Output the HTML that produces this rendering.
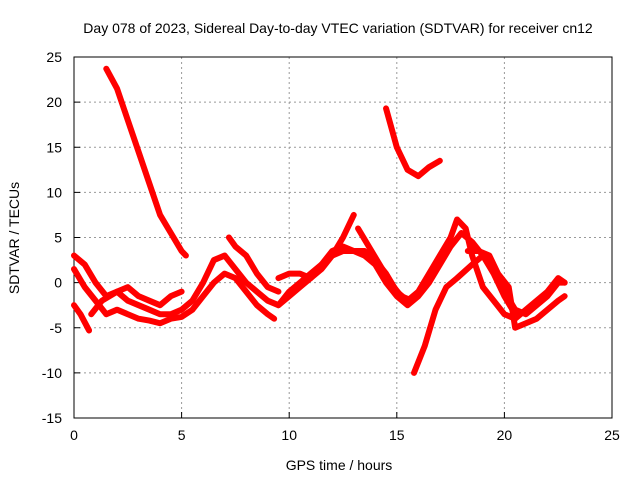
<!DOCTYPE html>
<html><head><meta charset="utf-8"><style>
body{margin:0;background:#fff}
svg{font-family:"Liberation Sans",sans-serif}
</style></head><body>
<svg id="chart" width="640" height="480">
<text x="338" y="33" text-anchor="middle" font-size="14">Day 078 of 2023, Sidereal Day-to-day VTEC variation (SDTVAR) for receiver cn12</text>
<text x="339" y="470" text-anchor="middle" font-size="14">GPS time / hours</text>
<text transform="translate(19,238) rotate(-90)" text-anchor="middle" font-size="14">SDTVAR / TECUs</text>
<g id="grid"></g><g id="axes"></g><g id="series"></g>
</svg>
<script>
const xTicks=[0,5,10,15,20,25];
const yTicks=[-15,-10,-5,0,5,10,15,20,25];
const sA=[[0,3],[0.5,2],[1,0],[1.5,-1.5],[2,-1],[2.5,-2],[3,-2.5],[3.5,-3],[4,-3.5],[4.5,-3.5],[5,-3],[5.5,-2],[6,0],[6.5,2.5],[7,3],[7.5,1.5],[8,0],[8.5,-1],[9,-2],[9.5,-2.5],[10,-1.5],[10.5,-0.5],[11,0.5],[11.5,1.5],[12,3],[12.5,5],[13,7.5]];
const sB=[[0,1.5],[0.5,-0.5],[1,-2],[1.5,-3.5],[2,-3],[2.5,-3.5],[3,-4],[3.5,-4.2],[4,-4.5],[4.5,-4],[5,-3.8],[5.5,-3],[6,-1.5],[6.5,0],[7,1],[7.5,0.5],[8,-1],[8.5,-2.5],[9,-3.5],[9.3,-4]];
const sC=[[0.8,-3.5],[1.3,-2],[2,-1],[2.5,-0.5],[3,-1.5],[3.5,-2],[4,-2.5],[4.5,-1.5],[5,-1]];
const sD=[[7.2,5],[7.5,4],[8,3],[8.5,1],[9,-0.5],[9.5,-1]];
const sE=[[9.5,-2.5],[10,-1],[10.5,0],[11,1],[11.5,2],[12,3],[12.5,3.5],[13,3.5],[13.5,3],[14,2],[14.5,0],[15,-1.5],[15.5,-2.5],[16,-1.5],[16.5,0],[17,2],[17.5,4],[18,5.5],[18.5,4.5],[19,3],[19.5,1.5],[20,-1],[20.5,-3],[21,-3.5],[21.5,-2.5],[22,-1.5],[22.5,0],[22.8,0]];
const sF=[[9.5,0.5],[10,1],[10.5,1],[11,0.5],[11.5,2],[12,3.5],[12.5,4],[13,3.5],[13.5,3.5],[14,2.5],[14.5,1],[15,-1],[15.5,-2],[16,-1],[16.5,1],[17,3],[17.5,5],[17.8,7],[18.2,6],[18.5,3],[19,-0.5],[19.5,-2],[20,-3.5],[20.5,-4],[21,-3],[21.5,-2],[22,-1],[22.5,0.5],[22.8,0]];
const sG=[[13.2,6],[13.7,4],[14.2,2],[14.7,0],[15.2,-1.5],[15.7,-2]];
const sH=[[18.3,3.5],[18.8,3.5],[19.3,3],[19.7,1],[20.2,-0.5],[20.5,-5],[21,-4.5],[21.5,-4],[22,-3],[22.5,-2],[22.8,-1.5]];
const sTop1=[[1.5,23.7],[2,21.5],[2.5,18],[3,14.5],[3.5,11],[4,7.5],[4.5,5.5],[5,3.5],[5.2,3]];
const sTop2=[[14.5,19.3],[15,15],[15.5,12.5],[16,11.8],[16.5,12.8],[17,13.5]];
const sRise=[[15.8,-10],[16.3,-7],[16.8,-3],[17.3,-0.5],[17.8,0.5],[18.5,2],[19,3],[19.5,1],[20,-1.5],[20.5,-3.5]];
const sLow=[[0,-2.5],[0.3,-3.5],[0.7,-5.3]];
const seriesList=[sA,sB,sC,sD,sE,sF,sG,sH,sTop1,sTop2,sRise,sLow];
const X0=74,X1=612,Y0=418,Y1=57;
const xs=v=>X0+(v-0)/25*(X1-X0);
const ys=v=>Y0-(v+15)/40*(Y0-Y1);
const NS="http://www.w3.org/2000/svg";
function mk(t,a,p){const e=document.createElementNS(NS,t);for(const k in a)e.setAttribute(k,a[k]);p.appendChild(e);return e;}
const grid=document.getElementById('grid'),axes=document.getElementById('axes'),ser=document.getElementById('series');
xTicks.forEach(t=>{
 if(t>0&&t<25){const g=mk('line',{x1:xs(t),x2:xs(t),y1:Y1,y2:Y0,stroke:'#999','stroke-dasharray':'2,3'},grid);
 
 }
 const tk=mk('line',{x1:xs(t),x2:xs(t),y1:Y0,y2:Y0-6,stroke:'#000'},axes);
 
 
 const l=mk('text',{x:xs(t),y:Y0+22,'text-anchor':'middle','font-size':'14'},axes);l.textContent=t;
 
 
});
yTicks.forEach(t=>{
 if(t>-15&&t<25){const g=mk('line',{x1:X0,x2:X1,y1:ys(t),y2:ys(t),stroke:'#999','stroke-dasharray':'2,3'},grid);
 
 }
 const tk=mk('line',{x1:X0,x2:X0+6,y1:ys(t),y2:ys(t),stroke:'#000'},axes);
 
 
 const l=mk('text',{x:X0-12,y:ys(t)+5,'text-anchor':'end','font-size':'14'},axes);l.textContent=t;
 
 
});
const fr=mk('rect',{x:X0,y:Y1,width:X1-X0,height:Y0-Y1,fill:'none',stroke:'#000'},axes);


seriesList.forEach((s,i)=>{
 const p=mk('polyline',{points:s.map(d=>xs(d[0])+','+ys(d[1])).join(' '),fill:'none',stroke:'#f00','stroke-width':'6','stroke-linejoin':'round','stroke-linecap':'round'},ser);
 
 
});
</script>
</body></html>
